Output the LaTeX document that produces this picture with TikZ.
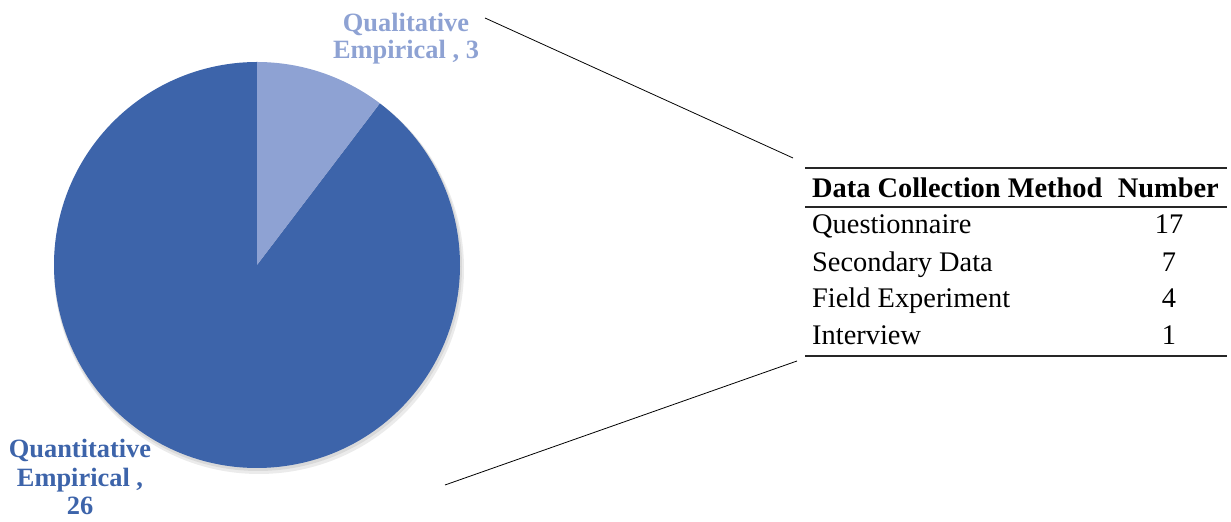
\documentclass[tikz,border=0pt]{standalone}
\usepackage{fontspec}
\setmainfont{Liberation Serif}
\usetikzlibrary{positioning}
\definecolor{qdark}{HTML}{3D64AA}
\definecolor{qlight}{HTML}{8EA2D3}
\tikzstyle{slicelabel} = [align=center, font=\bfseries\fontsize{26.5}{29}\selectfont, inner sep=0pt]
\tikzstyle{cell} = [anchor=base west, inner sep=0pt, font=\fontsize{28.5}{30}\selectfont]
\tikzstyle{numcell} = [anchor=base, inner sep=0pt, font=\fontsize{28.5}{30}\selectfont]
\tikzstyle{headcell} = [cell, font=\bfseries\fontsize{28.5}{30}\selectfont]
\tikzstyle{rule} = [line width=1.3bp, black!85]
\tikzstyle{zoomline} = [line width=0.8bp]

\begin{document}
\begin{tikzpicture}[x=1bp, y=1bp]
\useasboundingbox (0,0) rectangle (1231,522);
\coordinate (pc) at (257,257);
% pie with soft shadow
\fill[black, opacity=0.08] (259,253) circle (205);
\fill[black, opacity=0.08] (258,255) circle (204);
\fill[qdark] (pc) -- ++(52.76:203) arc[start angle=52.76, end angle=-270, radius=203] -- cycle;
\fill[qlight] (pc) -- ++(90:203) arc[start angle=90, end angle=52.76, radius=203] -- cycle;
\node (qual) [slicelabel, text=qlight, font=\bfseries\fontsize{26.5}{27}\selectfont] at (406,483) {Qualitative\\Empirical , 3};
\node (quant) [slicelabel, text=qdark] at (80,45) {Quantitative\\Empirical ,\\26};
% table
\node (hmethod) [headcell] at (812,324) {Data Collection Method};
\node (hnum) [headcell, anchor=base east] at (1219,324) {Number};
\node (r1) [cell] at (812,288) {Questionnaire};
\node (r2) [cell] at (812,250) {Secondary Data};
\node (r3) [cell] at (812,214) {Field Experiment};
\node (r4) [cell] at (812,177) {Interview};
\node (n1) [numcell] at (1169,288) {17};
\node (n2) [numcell] at (1169,250) {7};
\node (n3) [numcell] at (1169,214) {4};
\node (n4) [numcell] at (1169,177) {1};
\draw [rule] (805,354) -- (1227,354);
\draw [rule] (805,315) -- (1227,315);
\draw [rule] (805,166) -- (1227,166);
% zoom lines
\coordinate (qtip) at (485,504);
\coordinate (ptip) at (445,37);
\coordinate (ttop) at (793,364);
\coordinate (tbot) at (797,161);
\draw [zoomline] (qtip) -- (ttop);
\draw [zoomline] (ptip) -- (tbot);
\end{tikzpicture}
\end{document}
